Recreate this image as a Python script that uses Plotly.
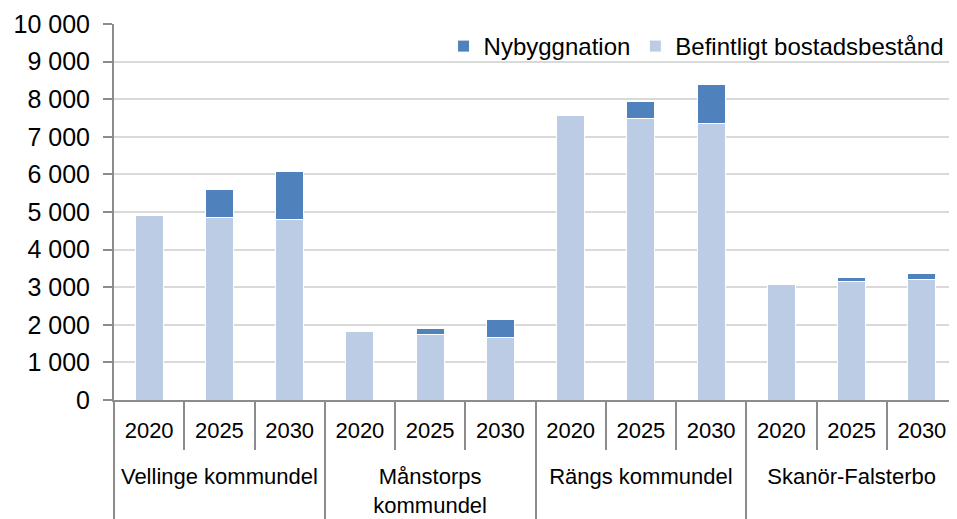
import plotly.graph_objects as go

# NOTE: kategorier (kommundel, år)
omraden = ['Vellinge kommundel'] * 3 + ['Månstorps<br>kommundel'] * 3 + ['Rängs kommundel'] * 3 + ['Skanör-Falsterbo'] * 3
ar = ['2020', '2025', '2030'] * 4

# NOTE: värden
befintligt = [4910, 4850, 4800, 1810, 1750, 1670, 7560, 7480, 7360, 3080, 3140, 3210]
nybyggnation = [0, 740, 1270, 0, 160, 470, 0, 460, 1030, 0, 105, 160]

LJUS = '#BBCCE4'
MORK = '#4F81BD'
GRID = '#D9D9D9'
AXEL = '#8C8C8C'
FONT = 'Liberation Sans, Arial, sans-serif'

# NOTE: gruppetiketterna flyttas ned en rad
grupper = ['<br>' + o for o in omraden]

fig = go.Figure()
fig.add_trace(go.Bar(x=[grupper, ar], y=befintligt, name='Befintligt bostadsbestånd',
                     marker=dict(color=LJUS, line=dict(color='white', width=1)), legendrank=2))
fig.add_trace(go.Bar(x=[grupper, ar], y=nybyggnation, name='Nybyggnation',
                     marker=dict(color=MORK, line=dict(color='white', width=1)), legendrank=1))

# NOTE: sidan har 8px marginal i body, därför 949x511
fig.update_layout(
    barmode='stack',
    bargap=0.6,
    width=949, height=511,
    margin=dict(l=106, r=0, t=16, b=119),
    plot_bgcolor='white', paper_bgcolor='white',
    font=dict(family=FONT, size=24, color='black'),
    legend=dict(orientation='h', x=0.99, xanchor='right', y=1.0, yanchor='top',
                font=dict(size=24), bgcolor='rgba(255,255,255,0)', itemwidth=30,
                traceorder='normal'),
    separators=', ',
)
fig.update_yaxes(range=[0, 10000], dtick=1000, tickformat=',d',
                 showgrid=True, gridcolor=GRID, gridwidth=2,
                 showline=True, linecolor=AXEL, linewidth=2,
                 ticks='outside', ticklen=9, tickcolor=AXEL, tickwidth=2,
                 ticklabelstandoff=8,
                 tickfont=dict(size=25), zeroline=False)
fig.update_xaxes(type='multicategory', showline=True, linecolor=AXEL, linewidth=2,
                 ticks='outside', ticklen=48, tickcolor=AXEL, tickwidth=2,
                 ticklabelstandoff=10, automargin=False,
                 showdividers=True, dividercolor=AXEL, dividerwidth=2,
                 tickfont=dict(size=22))

fig.write_html('out.html')
